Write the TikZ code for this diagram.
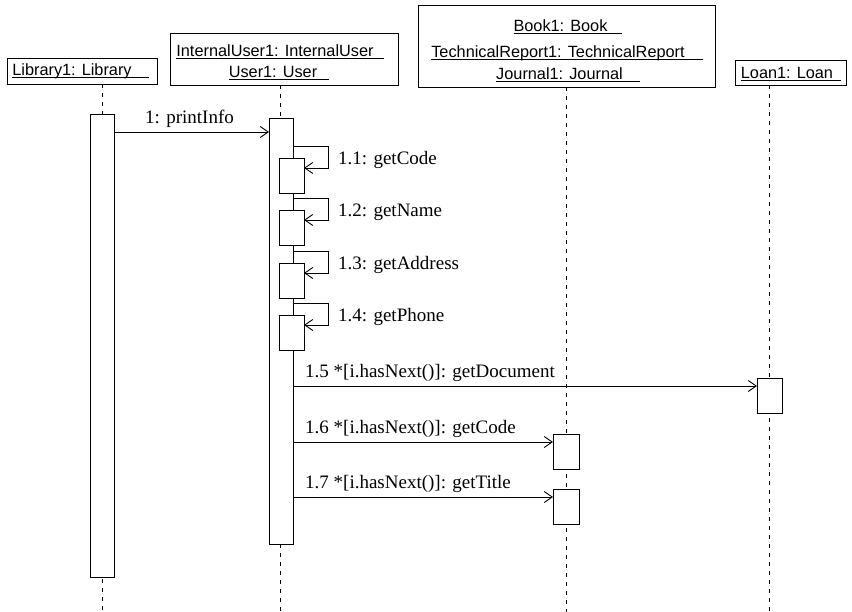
\documentclass[tikz,border=0pt]{standalone}
\usepackage{fontspec}
\setmainfont{Liberation Serif}
\newfontfamily\hdrfont{Liberation Sans}
\usetikzlibrary{arrows.meta}
\newsavebox\ulbox
\newcommand\myul[2][14pt]{\sbox\ulbox{#2\hspace{#1}}\rlap{\rule[-2.2pt]{\wd\ulbox}{0.8pt}}\usebox\ulbox}
\tikzset{
  hbox/.style={draw, fill=white, line width=0.9pt, inner sep=0pt, outer sep=0pt, anchor=north west},
  htext/.style={inner sep=0pt, anchor=base, font=\hdrfont\fontsize{16.3}{19}\selectfont},
  act/.style={draw, fill=white, line width=0.9pt, inner sep=0pt, outer sep=0pt, anchor=north west},
  life/.style={line width=0.9pt, dash pattern=on 4pt off 5pt},
  msg/.style={line width=0.9pt, -{Straight Barb[length=8pt,width=11pt]}},
  lbl/.style={inner sep=0pt, anchor=base west, font=\fontsize{19}{22}\selectfont}
}
\begin{document}
\begin{tikzpicture}[x=1pt,y=-1pt]
\useasboundingbox (0,0) rectangle (852,612);
% header boxes
\node[hbox, minimum width=150, minimum height=26] (libbox) at (7,58) {};
\node[hbox, minimum width=228, minimum height=52] (ubox) at (170,33) {};
\node[hbox, minimum width=297, minimum height=82] (bbox) at (418,5) {};
\node[hbox, minimum width=111, minimum height=25] (lbox) at (735,60) {};
% header texts
\node[htext] (libt) at (80.5,76) {\myul[17pt]{Library1: Library}};
\node[htext] (ut1) at (280,57) {\myul[10pt]{InternalUser1: InternalUser}};
\node[htext] (ut2) at (279,78) {\myul[12pt]{User1: User}};
\node[htext] (bt1) at (568,32) {\myul[15pt]{Book1: Book}};
\node[htext] (bt2) at (567,58) {\myul[18pt]{TechnicalReport1: TechnicalReport}};
\node[htext] (bt3) at (568,80) {\myul[17pt]{Journal1: Journal}};
\node[htext] (lt) at (791,79) {\myul[8pt]{Loan1: Loan}};
% lifeline ends
\coordinate (libend) at (102,612);
\coordinate (uend) at (280,612);
\coordinate (bend) at (566,612);
\coordinate (lend) at (769,612);
\draw[life] (libbox.south -| libend) -- (libend);
\draw[life] (ubox.south -| uend) -- (uend);
\draw[life] (bbox.south -| bend) -- (bend);
\draw[life] (lbox.south -| lend) -- (lend);
% activations
\node[act, minimum width=24, minimum height=463] (libact) at (90,114) {};
\node[act, minimum width=24, minimum height=426] (ua) at (269,118) {};
\node[act, minimum width=25, minimum height=35] (n1) at (279,158) {};
\node[act, minimum width=25, minimum height=35] (n2) at (279,210) {};
\node[act, minimum width=25, minimum height=35] (n3) at (279,263) {};
\node[act, minimum width=25, minimum height=35] (n4) at (279,315) {};
\node[act, minimum width=25, minimum height=35] (loanact) at (757,378) {};
\node[act, minimum width=26, minimum height=35] (b1) at (553,434) {};
\node[act, minimum width=26, minimum height=35] (b2) at (553,489) {};
% message 1
\draw[msg] (libact.east |- 0,132) -- (ua.west |- 0,132);
\node[lbl] (m1) at (145,124) {1: printInfo};
% self calls
\foreach \n/\t in {n1/{1.1: getCode}, n2/{1.2: getName}, n3/{1.3: getAddress}, n4/{1.4: getPhone}}{
  \draw[msg] ([yshift=12pt]ua.east |- \n.north) -- ++(35,0) |- ([yshift=-10pt]\n.north east);
  \node[lbl] (l\n) at ([xshift=34pt,yshift=-7pt]\n.north east) {\t};
}
% messages 1.5 - 1.7
\draw[msg] (ua.east |- 0,386) -- (loanact.west |- 0,386);
\node[lbl] (m15) at (305,378) {1.5 *[i.hasNext()]: getDocument};
\draw[msg] (ua.east |- 0,442) -- (b1.west |- 0,442);
\node[lbl] (m16) at (305,433) {1.6 *[i.hasNext()]: getCode};
\draw[msg] (ua.east |- 0,497) -- (b2.west |- 0,497);
\node[lbl] (m17) at (305,488) {1.7 *[i.hasNext()]: getTitle};
\end{tikzpicture}
\end{document}
